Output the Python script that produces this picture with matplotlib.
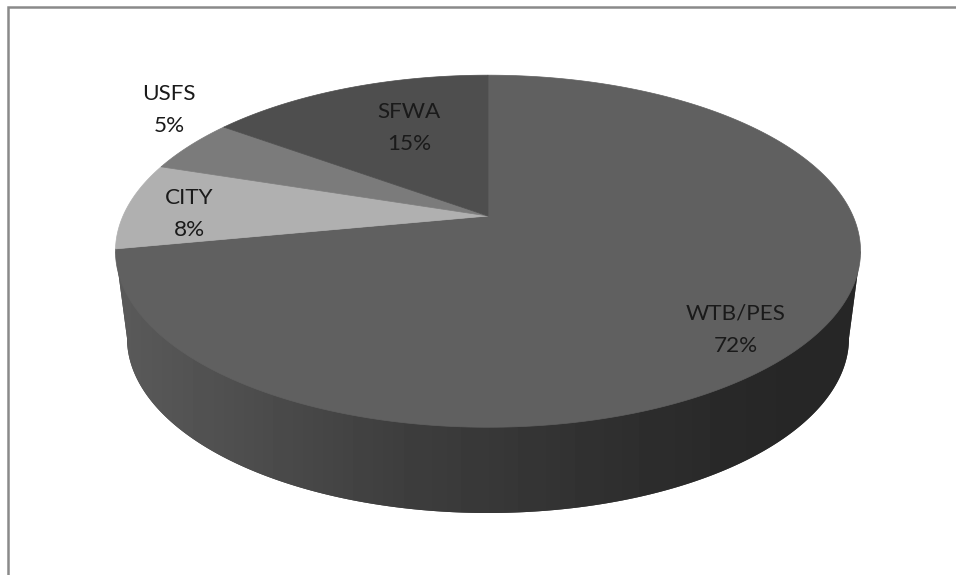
import numpy as np
import matplotlib
matplotlib.use("Agg")
import matplotlib.pyplot as plt
from matplotlib.patches import Polygon

labels = ["WTB/PES", "CITY", "USFS", "SFWA"]
values = [72, 8, 5, 15]
colors = ["#606060", "#b0b0b0", "#7b7b7b", "#4e4e4e"]
label_pos = [(736, 330), (189, 214), (169, 110), (409, 128)]

# projection of the pie disc (in pixels)
CX, CY, BX, BY, K = 488, 216, 365, 169, 0.2
# lower rim
LOW_CX, LOW_CY, LOW_RX, LOW_RY = 488, 338, 361, 175


def project(a):
    """a: clockwise angle from 12 o'clock in radians -> pixel coordinates."""
    x, y = np.sin(a), np.cos(a)
    d = 1 + K * y
    return CX + BX * x / d, CY - BY * y / d


fig = plt.figure(figsize=(9.56, 5.75), dpi=100)
ax = fig.add_axes([0, 0, 1, 1])
ax.set_xlim(0, 956)
ax.set_ylim(575, 0)
ax.axis("off")

# chart frame
ax.plot([8, 8, 956], [575, 6.5, 6.5], color="#8a8a8a", lw=1.8, solid_joinstyle="miter")

# wall
t = np.linspace(0, np.pi, 300)
lx = LOW_CX - LOW_RX * np.cos(t)
ly = LOW_CY + LOW_RY * np.sin(t)
tx, ty = project(np.linspace(0, 2 * np.pi, 720))
il, ir = np.argmin(tx), np.argmax(tx)
wall_x = np.r_[tx[il], lx, tx[ir]]
wall_y = np.r_[ty[il], ly, ty[ir]]
wall = Polygon(np.c_[wall_x, wall_y], closed=True, fc="#404040", ec="none", zorder=1)
ax.add_patch(wall)
stops_x = [116, 200, 400, 600, 760, 861]
stops_v = [0x5a, 0x52, 0x3e, 0x30, 0x27, 0x26]
gx = np.arange(116, 862)
grad = np.interp(gx, stops_x, stops_v)[None, :] / 255
im = ax.imshow(grad, extent=(116, 862, 520, 240), cmap="gray", vmin=0, vmax=1,
               aspect="auto", zorder=1.5)
im.set_clip_path(wall)
ax.set_xlim(0, 956)
ax.set_ylim(575, 0)

# top faces
start = 0.0
for val, col in zip(values, colors):
    end = start + val / sum(values) * 2 * np.pi
    a = np.linspace(start, end, 400)
    px, py = project(a)
    ax.add_patch(Polygon(np.c_[np.r_[CX, px], np.r_[CY, py]], closed=True,
                         fc=col, ec=col, lw=0.5, zorder=2))
    start = end

# labels
for lab, val, (x, y) in zip(labels, values, label_pos):
    ax.text(x, y, f"{lab}\n{val}%", ha="center", va="center", fontsize=16.2,
            family="Lato", color="#1a1a1a", linespacing=1.75, zorder=3)

fig.savefig("out.png", dpi=100, facecolor="white")
